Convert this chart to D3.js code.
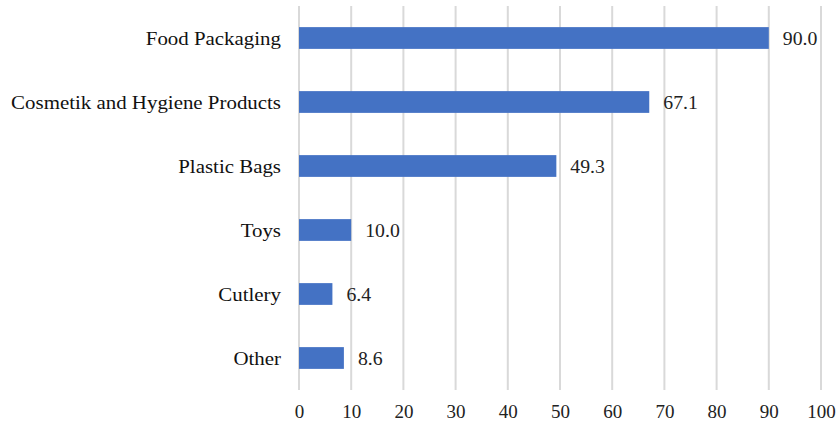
<!DOCTYPE html>
<html><head><meta charset="utf-8">
<script src="https://cdn.jsdelivr.net/npm/d3@7/dist/d3.min.js"></script>
<style>body{margin:0;background:#fff}svg{display:block}</style>
</head><body>
<script>
const categories = ["Food Packaging","Cosmetik and Hygiene Products","Plastic Bags","Toys","Cutlery","Other"];
const values = [90.0, 67.1, 49.3, 10.0, 6.4, 8.6];
const ticks = [0,10,20,30,40,50,60,70,80,90,100];

const W=836,H=421;
const m={left:299,right:15,top:6,bottom:31};
const svg=d3.select("body").append("svg").attr("width",W).attr("height",H);
const x=d3.scaleLinear().domain([0,100]).range([m.left,W-m.right]);
const y=d3.scaleBand().domain(categories).range([m.top,H-m.bottom]).paddingInner(0.66).paddingOuter(0.33);
const font="'Liberation Serif','Times New Roman',serif";

svg.append("g").selectAll("line").data(ticks).join("line")
  .attr("x1",d=>x(d)).attr("x2",d=>x(d)).attr("y1",m.top).attr("y2",H-m.bottom)
  .attr("stroke","#d9d9d9").attr("stroke-width",2);

svg.append("g").selectAll("rect").data(categories).join("rect")
  .attr("x",x(0)).attr("y",d=>y(d)).attr("height",y.bandwidth())
  .attr("width",(d,i)=>x(values[i])-x(0)).attr("fill","#4472C4");

svg.append("g").selectAll("text").data(categories).join("text")
  .attr("transform",d=>`translate(${x(0)-18},${y(d)+y.bandwidth()/2}) scale(1.1,1)`)
  .attr("dy","0.35em")
  .attr("text-anchor","end").attr("font-family",font).attr("font-size",19)
  .attr("fill","#111").text(d=>d);

svg.append("g").selectAll("text").data(categories).join("text")
  .attr("transform",(d,i)=>`translate(${x(values[i])+14},${y(d)+y.bandwidth()/2}) scale(1.04,1)`)
  .attr("dy","0.35em")
  .attr("font-family",font).attr("font-size",19).attr("fill","#222")
  .text((d,i)=>values[i].toFixed(1));

const ax=svg.append("g").attr("transform",`translate(0,${H-m.bottom})`)
  .call(d3.axisBottom(x).tickValues(ticks).tickSize(0).tickPadding(15));
ax.select(".domain").remove();
ax.selectAll("text").attr("font-family",font).attr("font-size",19).attr("fill","#222");
</script>
</body></html>
